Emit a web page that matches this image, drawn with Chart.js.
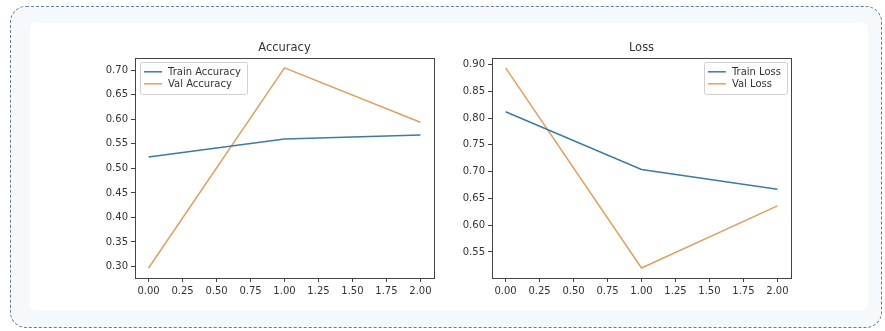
<!DOCTYPE html>
<html>
<head>
<meta charset="utf-8">
<script src="https://cdn.jsdelivr.net/npm/chart.js@4.4.1/dist/chart.umd.min.js"></script>
<style>
  html, body { margin: 0; padding: 0; background: #ffffff; width: 885px; height: 331px; overflow: hidden; }
  #frame { position: absolute; left: 10px; top: 6px; width: 872px; height: 322px;
           border: 1.5px dashed #5f7f9b; border-radius: 16px; background: #f5f9fc; box-sizing: border-box; }
  #panel { position: absolute; left: 30px; top: 23px; width: 838px; height: 287px; background: #ffffff; border-radius: 6px; }
  .cw { position: absolute; }
  #c1w { left: 75px; top: 30px; width: 375px; height: 275px; }
  #c2w { left: 432px; top: 30px; width: 375px; height: 275px; }
</style>
</head>
<body>
<div id="frame"></div>
<div id="panel"></div>
<div class="cw" id="c1w"><canvas id="c1" width="375" height="275"></canvas></div>
<div class="cw" id="c2w"><canvas id="c2" width="375" height="275"></canvas></div>
<script>
// ---- data ----
const epochs = [0, 1, 2];
const trainAccuracy = [0.523, 0.560, 0.568];
const valAccuracy = [0.297, 0.705, 0.594];
const trainLoss = [0.812, 0.704, 0.667];
const valLoss = [0.894, 0.520, 0.636];
const xTicks = [0.00, 0.25, 0.50, 0.75, 1.00, 1.25, 1.50, 1.75, 2.00];
const accYTicks = [0.30, 0.35, 0.40, 0.45, 0.50, 0.55, 0.60, 0.65, 0.70];
const lossYTicks = [0.55, 0.60, 0.65, 0.70, 0.75, 0.80, 0.85, 0.90];
const accTitle = 'Accuracy';
const lossTitle = 'Loss';
const accLabels = ['Train Accuracy', 'Val Accuracy'];
const lossLabels = ['Train Loss', 'Val Loss'];

const BLUE = '#3d7ba3';
const ORANGE = '#e3a05c';
const FONT = 'DejaVu Sans';
const TXT = '#333333';

function pad(min, max) { const r = max - min; return [min - 0.05 * r, max + 0.05 * r]; }

// frame (all four spines)
const boxPlugin = {
  id: 'box',
  afterDatasetsDraw(chart) {
    const a = chart.chartArea, ctx = chart.ctx;
    ctx.save();
    ctx.strokeStyle = '#444';
    ctx.lineWidth = 1;
    ctx.strokeRect(Math.round(a.left) + 0.5, Math.round(a.top) + 0.5,
                   Math.round(a.right - a.left), Math.round(a.bottom - a.top));
    ctx.restore();
  }
};

// matplotlib-like legend inside the axes
const innerLegend = {
  id: 'innerLegend',
  afterDraw(chart, args, opts) {
    const ctx = chart.ctx, a = chart.chartArea;
    const fs = 10;
    ctx.save();
    ctx.font = fs + 'px "' + FONT + '"';
    const items = chart.data.datasets.map(d => ({ label: d.label, color: d.borderColor }));
    const tw = Math.max(...items.map(i => ctx.measureText(i.label).width));
    const handle = 18, gap = 6, padX = 4, padY = 4, row = 12;
    const w = padX + handle + gap + tw + padX + 2;
    const h = padY * 2 + row * items.length;
    const x = opts.position === 'right' ? a.right - 4 - w : a.left + 5;
    const y = a.top + 4;
    ctx.fillStyle = 'rgba(255,255,255,0.85)';
    ctx.strokeStyle = '#d0d0d0';
    ctx.lineWidth = 1;
    ctx.beginPath();
    ctx.roundRect(Math.round(x) + 0.5, Math.round(y) + 0.5, Math.round(w), Math.round(h), 2);
    ctx.fill(); ctx.stroke();
    items.forEach((it, i) => {
      const cy = y + padY + row * i + row / 2;
      ctx.strokeStyle = it.color; ctx.lineWidth = 1.5;
      ctx.beginPath(); ctx.moveTo(x + padX, cy); ctx.lineTo(x + padX + handle, cy); ctx.stroke();
      ctx.fillStyle = TXT; ctx.textBaseline = 'middle'; ctx.textAlign = 'left';
      ctx.fillText(it.label, x + padX + handle + gap, cy + 0.5);
    });
    ctx.restore();
  }
};

function makeChart(id, title, labels, s1, s2, yTicks, legendPos) {
  const all = s1.concat(s2);
  const [ymin, ymax] = pad(Math.min(...all), Math.max(...all));
  const [xmin, xmax] = pad(Math.min(...epochs), Math.max(...epochs));
  const tickFont = { family: FONT, size: 10 };
  return new Chart(document.getElementById(id), {
    type: 'line',
    data: {
      datasets: [
        { label: labels[0], data: epochs.map((e, i) => ({ x: e, y: s1[i] })), borderColor: BLUE, borderWidth: 1.5, pointRadius: 0, tension: 0 },
        { label: labels[1], data: epochs.map((e, i) => ({ x: e, y: s2[i] })), borderColor: ORANGE, borderWidth: 1.5, pointRadius: 0, tension: 0 }
      ]
    },
    options: {
      responsive: false,
      animation: false,
      events: [],
      layout: { padding: { left: 0, right: 16, top: 0, bottom: 0 } },
      plugins: {
        legend: { display: false },
        tooltip: { enabled: false },
        title: { display: true, text: title, fullSize: false, color: TXT, font: { family: FONT, size: 11.5, weight: 'normal' }, padding: { top: 11, bottom: 3 } },
        innerLegend: { position: legendPos }
      },
      scales: {
        x: {
          type: 'linear', min: xmin, max: xmax,
          afterBuildTicks: s => { s.ticks = xTicks.map(v => ({ value: v })); },
          afterFit: s => { s.height = 27; },
          ticks: { color: TXT, font: tickFont, padding: 3, maxRotation: 0, autoSkip: false, callback: v => v.toFixed(2) },
          grid: { display: true, drawOnChartArea: false, tickLength: 4, color: '#444', tickColor: '#444' },
          border: { display: false }
        },
        y: {
          type: 'linear', min: ymin, max: ymax,
          afterBuildTicks: s => { s.ticks = yTicks.map(v => ({ value: v })); },
          afterFit: s => { s.width = 60; },
          ticks: { color: TXT, font: tickFont, padding: 3, autoSkip: false, callback: v => v.toFixed(2) },
          grid: { display: true, drawOnChartArea: false, tickLength: 4, color: '#444', tickColor: '#444' },
          border: { display: false }
        }
      }
    },
    plugins: [boxPlugin, innerLegend]
  });
}

makeChart('c1', accTitle, accLabels, trainAccuracy, valAccuracy, accYTicks, 'left');
makeChart('c2', lossTitle, lossLabels, trainLoss, valLoss, lossYTicks, 'right');
</script>
</body>
</html>
